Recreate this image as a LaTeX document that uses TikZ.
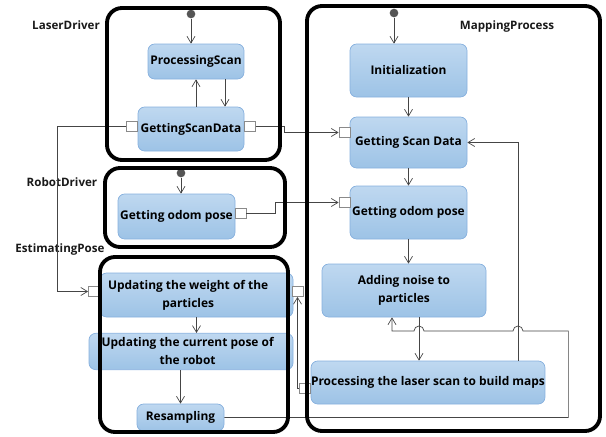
\documentclass[tikz,border=0pt]{standalone}
\usepackage{fontspec}
\setmainfont{Open Sans}
\usetikzlibrary{arrows.meta}

\definecolor{statetop}{HTML}{BFD8F0}
\definecolor{statebot}{HTML}{9DC3E6}
\definecolor{stateline}{HTML}{86B0DE}
\definecolor{flowgray}{HTML}{454545}
\definecolor{portgray}{HTML}{8A8A8A}
\definecolor{dotgray}{HTML}{555555}

\begin{document}
\begin{tikzpicture}[x=0.03cm,y=-0.03cm,
  wh/.style 2 args={minimum width=#1*0.03cm, minimum height=#2*0.03cm},
  state/.style={draw=stateline, line width=0.6pt, rounded corners=2mm,
    top color=statetop, bottom color=statebot, inner sep=0pt, align=center,
    font=\bfseries\fontsize{10.2}{15.5}\selectfont},
  port/.style={draw=portgray, fill=white, line width=0.6pt, inner sep=0pt,
    minimum width=0.33cm, minimum height=0.3cm},
  initdot/.style={circle, fill=dotgray, inner sep=0pt, minimum size=0.26cm},
  lanelabel/.style={font=\bfseries\fontsize{9.9}{12}\selectfont, text=black!90},
  lane/.style={line width=3.3pt, rounded corners=4.5mm},
  flow/.style={draw=flowgray, line width=0.6pt,
    -{Straight Barb[length=2mm,width=2.4mm]}}
]
\useasboundingbox (0,0) rectangle (606,436);

% lane titles
\node[lanelabel] (lblLaser)   at (66,25)  {LaserDriver};
\node[lanelabel] (lblMapping) at (507,26) {MappingProcess};
\node[lanelabel] (lblRobot)   at (62,182) {RobotDriver};
\node[lanelabel] (lblPose)    at (60,249) {EstimatingPose};

% initial states
\node[initdot] (ldot) at (191,14) {};
\node[initdot] (mdot) at (394,13) {};
\node[initdot] (rdot) at (181,173) {};

% laser driver
\node[state, wh={96}{35}]  (scan)    at (196,61.5) {ProcessingScan};
\node[state, wh={106}{44}] (getscan) at (191,129)  {GettingScanData};

% robot driver
\node[state, wh={117}{45}] (odom) at (176.5,216.5) {Getting odom pose};

% estimating pose (text sits a bit left of the box centre)
\node[state, wh={193}{44}] (weight)   at (196.5,295)
  {\begin{tabular}{@{}c@{}}Updating the weight of the\\particles\end{tabular}\hspace{0.5cm}};
\node[state, wh={204}{35}] (curpose)  at (191,351.5)
  {\begin{tabular}{@{}c@{}}Updating the current pose of\\the robot\end{tabular}\hspace{0.2cm}};
\node[state, wh={87}{27}]  (resample) at (180.5,417.5) {Resampling};

% mapping process
\node[state, wh={117}{53}] (init)     at (408.5,70.5)  {Initialization};
\node[state, wh={117}{51}] (mapscan)  at (408.5,142.5) {Getting Scan Data};
\node[state, wh={117}{53}] (mapodom)  at (408.5,212.5) {Getting odom pose};
\node[state, wh={164}{53}] (noise)    at (404,290.5)   {Adding noise to\\particles};
\node[state, wh={232}{43}] (buildmap) at (428,382.5)   {Processing the laser scan to build maps};

% pins
\node[port] (gsL) at (132,126)   {};
\node[port] (gsR) at (250,126)   {};
\node[port] (msL) at (344.5,132.5) {};
\node[port] (odR) at (240.5,213) {};
\node[port] (moL) at (344.5,202.5) {};
\node[port] (wL)  at (94,291.5)  {};
\node[port] (wR)  at (297.5,291.5) {};
\node[port] (bmL) at (305,388)   {};

% transitions inside the lanes
\draw[flow] (ldot) -- (ldot |- scan.north);
\draw[flow] (getscan.north -| scan.south) -- (scan.south);
\draw[flow] ([xshift=0.87cm]scan.south) -- ([xshift=0.87cm]scan.south |- getscan.north);
\draw[flow] (rdot) -- (rdot |- odom.north);
\draw[flow] (weight.south) -- (weight.south |- curpose.north);
\draw[flow] (curpose.south -| resample.north) -- (resample.north);
\draw[flow] (mdot) -- (mdot |- init.north);
\draw[flow] (init) -- (mapscan);
\draw[flow] (mapscan) -- (mapodom);
\draw[flow] (mapodom) -- (mapodom |- noise.north);
\draw[flow] ([xshift=0.45cm]noise.south) -- ([xshift=0.45cm]noise.south |- buildmap.north);
\draw[flow] ([xshift=2.7cm]buildmap.north) |- (mapscan.east);

% messages between the lanes
\draw[flow] (gsR.east) -- ++(28,0) |- (msL.west);
\draw[flow] (gsL.west) -- ++(-69,0) |- (wL.west);
\draw[flow] (odR.east) -- ++(29,0) |- (moL.west);
\draw[flow] (bmL.west) -| (wR.south);

% resampling back to the noise step, hopping over two lines
\coordinate (back) at (392,331);
\draw[flow] (resample.east) -- ++(344,0) -- ++(0,-86.5) -- (523,331)
  arc[start angle=0, end angle=180, radius=1.5mm] -- (424,331)
  arc[start angle=0, end angle=180, radius=1.5mm] -- (back)
  -- (back |- noise.south);

% lanes
\draw[lane] (107,8) rectangle (280,160);
\draw[lane] (105,168) rectangle (285,247);
\draw[lane] (100,257) rectangle (288,432);
\draw[lane] (307,6) rectangle (600,431);

\end{tikzpicture}
\end{document}
